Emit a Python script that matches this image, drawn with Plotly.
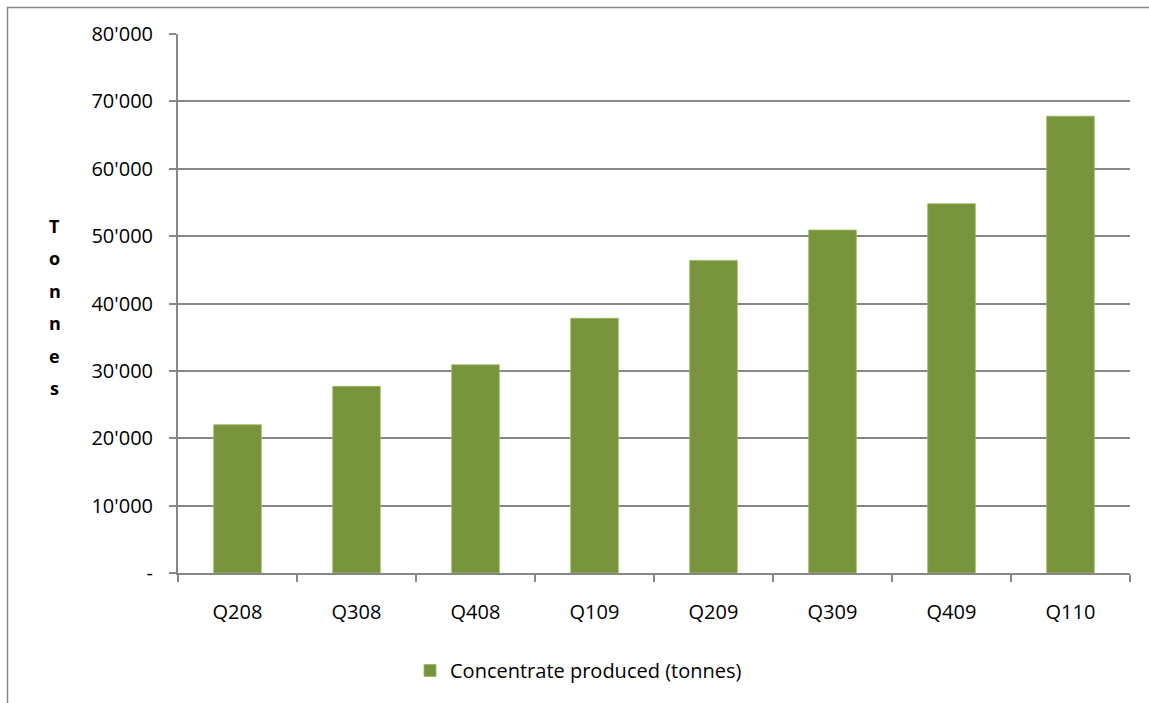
import plotly.graph_objects as go

categories = ["Q208", "Q308", "Q408", "Q109", "Q209", "Q309", "Q409", "Q110"]
concentrate = [22000, 27700, 30900, 37800, 46400, 50900, 54800, 67800]
tick_vals = [0, 10000, 20000, 30000, 40000, 50000, 60000, 70000, 80000]
tick_text = ["-", "10'000", "20'000", "30'000", "40'000", "50'000", "60'000", "70'000", "80'000"]
series_name = "Concentrate produced (tonnes)"
y_title = "Tonnes"

FONT = "Open Sans"
W, H = 1149, 703
L, R, T, B = 178, 19, 34, 130
pw, ph = W - L - R, H - T - B

fig = go.Figure()
fig.add_trace(go.Bar(
    x=categories, y=concentrate, name=series_name,
    marker=dict(color="#77933C", line=dict(color="#9BBB59", width=0.8)),
    width=0.4,
))

annotations = []
for i, ch in enumerate(y_title):
    annotations.append(dict(
        text="<b>%s</b>" % ch, xref="paper", yref="paper",
        x=(55 - L) / pw, y=(573 - (226 + 32.4 * i)) / ph,
        xanchor="center", yanchor="middle", showarrow=False,
        font=dict(size=18, color="#000000"),
    ))

fig.update_layout(
    width=W, height=H,
    margin=dict(l=L, r=R, t=T, b=B, pad=0),
    paper_bgcolor="white", plot_bgcolor="white",
    font=dict(family=FONT, size=20, color="#000000"),
    showlegend=True,
    legend=dict(orientation="h", x=(410 - L) / pw, xanchor="left", y=(573 - 651) / ph, yanchor="top",
                font=dict(size=20), itemwidth=30),
    xaxis=dict(
        type="category", showgrid=False, showline=True, linecolor="#868686", linewidth=2,
        ticks="outside", tickson="boundaries", ticklen=7, tickcolor="#868686", tickwidth=2,
        tickfont=dict(size=20), range=[-0.5, 7.5], ticklabelstandoff=20,
    ),
    yaxis=dict(
        range=[0, 80000], tickvals=tick_vals, ticktext=tick_text,
        showgrid=True, gridcolor="#868686", gridwidth=1.5,
        showline=True, linecolor="#868686", linewidth=2,
        ticks="outside", ticklen=7, tickcolor="#868686", tickwidth=2,
        tickfont=dict(size=20), zeroline=False, ticklabelstandoff=12,
    ),
    annotations=annotations,
    shapes=[dict(
        type="rect", xref="paper", yref="paper",
        x0=(7.5 - L) / pw, x1=(1170 - L) / pw,
        y0=(573 - 720) / ph, y1=(573 - 7.5) / ph,
        line=dict(color="#868686", width=1.5), fillcolor="rgba(0,0,0,0)", layer="below",
    )],
)

fig.write_html("out.html")
